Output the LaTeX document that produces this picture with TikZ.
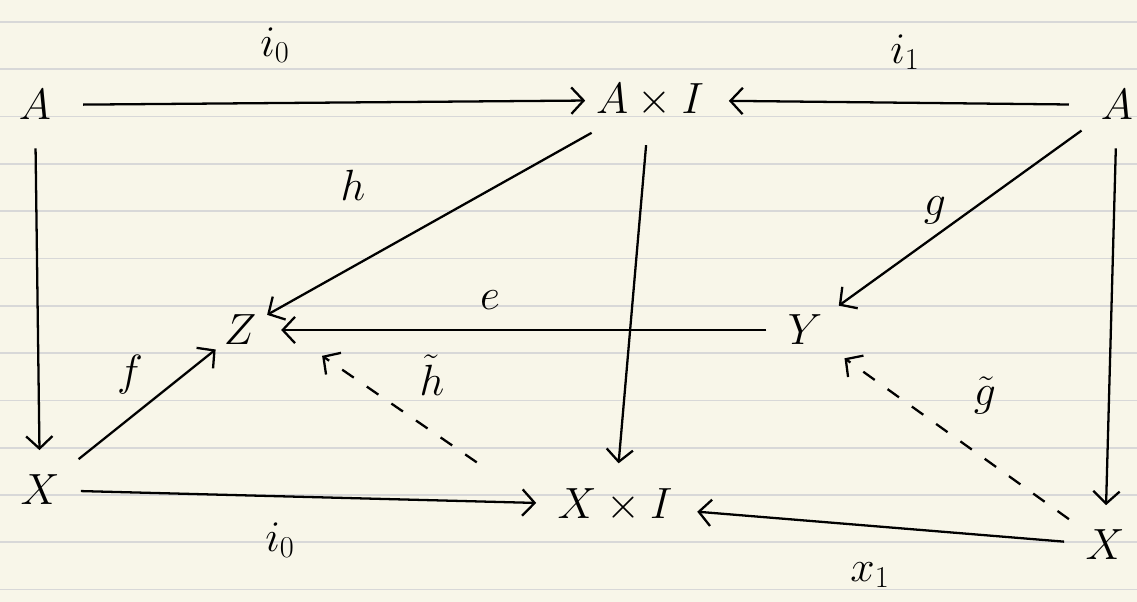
\documentclass[tikz,border=0pt]{standalone}
\usetikzlibrary{arrows.meta}
\definecolor{paper}{HTML}{F8F6E9}
\definecolor{rule}{HTML}{D8D8D8}
\tikzset{
  obj/.style={inner sep=6pt, font=\fontsize{34}{40}\selectfont},
  lab/.style={inner sep=0pt, font=\fontsize{26}{30}\selectfont},
  arr/.style={line width=1.3pt, -{Straight Barb[length=7pt,width=15pt,line width=1.3pt]}},
  darr/.style={arr, dash pattern=on 8pt off 9pt},
}
\begin{document}
\begin{tikzpicture}[x=0.02cm,y=-0.02cm]
\fill[paper] (0,0) rectangle (1137,602);
\useasboundingbox (0,0) rectangle (1137,602);
\foreach \k in {0,...,12} {
  \draw[rule, line width=1pt] (0,{22+47.3*\k}) -- (1137,{22+47.3*\k});
}
% objects
\node[obj] (A1) at (35,105) {$A$};
\node[obj] (AI) at (650,100) {$A\times I$};
\node[obj] (A2) at (1117,105) {$A$};
\node[obj] (Z) at (240,330) {$Z$};
\node[obj] (Y) at (805,330) {$Y$};
\node[obj] (X1) at (40,490) {$X$};
\node[obj] (XI) at (615,505) {$X\times I$};
\node[obj] (X2) at (1105,545) {$X$};
% arrows
\draw[arr, shorten <=12pt] (A1) -- (AI);
\draw[arr, shorten <=12pt, shorten >=8pt] (A2) -- (AI);
\draw[arr, shorten <=10pt, shorten >=8pt] (A1) -- (X1);
\draw[arr, shorten <=10pt, shorten >=8pt] (AI) -- (XI);
\draw[arr, shorten <=10pt, shorten >=8pt] (A2) -- (X2);
\draw[arr, shorten <=6pt] (AI) -- (Z);
\draw[arr, shorten <=6pt, shorten >=4pt] (A2) -- (Y);
\draw[arr, shorten <=6pt, shorten >=8pt] (Y) -- (Z);
\draw[arr, shorten <=6pt, shorten >=-2pt] (X1) -- (Z);
\draw[arr, shorten <=6pt, shorten >=6pt] (X1) -- (XI);
\draw[arr, shorten <=6pt, shorten >=8pt] (X2) -- (XI);
\draw[darr] ([shift={(-70,-15)}]XI.north west) -- ([shift={(55,0)}]Z.south east);
\draw[darr, shorten <=4pt, shorten >=8pt] (X2) -- (Y);
% labels
\node[lab] (li0) at (275,45) {$i_0$};
\node[lab] (li1) at (905,52) {$i_1$};
\node[lab] (lh) at (353,185) {$h$};
\node[lab] (lg) at (935,210) {$g$};
\node[lab] (le) at (490,300) {$e$};
\node[lab] (lf) at (130,375) {$f$};
\node[lab] (lth) at (432,375) {$\tilde h$};
\node[lab] (ltg) at (985,395) {$\tilde g$};
\node[lab] (li0b) at (280,540) {$i_0$};
\node[lab] (lx1) at (870,575) {$x_1$};
\end{tikzpicture}
\end{document}
